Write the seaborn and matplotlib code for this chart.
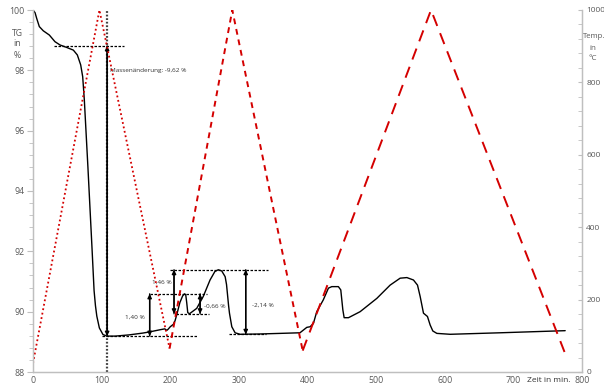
import matplotlib
matplotlib.use("Agg")
import matplotlib.pyplot as plt
import seaborn as sns
import pandas as pd
from matplotlib.ticker import MultipleLocator

sns.set_style("white")
plt.rcParams["font.family"] = ["Open Sans", "DejaVu Sans"]

# Thermogravimetric mass curve (TG, %) over time (min)
tg_time = [0, 3, 5.4, 9.2, 15, 23.8, 32, 39.4, 49, 58.8, 64.6, 69.5, 72.4, 74.8,
           80, 86, 89, 91, 93, 96.7, 102, 108, 120, 140, 160, 170, 185, 192, 195,
           197, 200, 204.5, 207, 209.5, 214, 218, 220.6, 222.5, 224, 225.5, 228,
           238.6, 248, 258, 265, 270, 275, 280, 282, 283.3, 285, 286.3, 289.7,
           294.5, 301.7, 330, 360, 389, 399, 403.8, 408.6, 413.5, 423, 430.5,
           435.4, 445, 448.5, 451.5, 453.4, 459.7, 476.7, 501, 520.4, 535, 544.8,
           554.4, 560.3, 564.2, 569, 574.8, 578.7, 582.6, 588.5, 607.9, 680.8, 775.5]
tg_value = [100, 99.91, 99.72, 99.45, 99.31, 99.17, 98.95, 98.84, 98.76, 98.67,
            98.51, 98.18, 97.79, 97.02, 94.8, 92.1, 90.7, 90.2, 89.85, 89.46,
            89.24, 89.19, 89.19, 89.23, 89.29, 89.33, 89.4, 89.43, 89.38, 89.42,
            89.5, 89.58, 89.7, 89.9, 90.3, 90.52, 90.59, 90.57, 90.3, 89.97, 89.93,
            90.11, 90.5, 91.05, 91.33, 91.39, 91.35, 91.16, 90.9, 90.6, 90.2, 89.95,
            89.5, 89.3, 89.25, 89.26, 89.28, 89.3, 89.48, 89.5, 89.61, 90.0, 90.39,
            90.78, 90.83, 90.83, 90.72, 90.06, 89.8, 89.8, 90.0, 90.44, 90.88,
            91.11, 91.13, 91.05, 90.88, 90.5, 89.95, 89.84, 89.56, 89.36, 89.28,
            89.25, 89.30, 89.37]

# Furnace temperature program (°C), three heating/cooling cycles
cycle1_time = [0, 96.8, 199]
cycle1_temp = [24, 1000, 65]
cycle2_time = [199, 290.4, 393]
cycle2_temp = [65, 1000, 59]
cycle3_time = [393, 580, 775]
cycle3_temp = [59, 1000, 53]

# Mass-change steps: arrow time, start TG, end TG, label
step_time = [108, 170, 205.5, 243.5, 310]
step_from = [89.19, 89.19, 89.93, 90.59, 89.25]
step_to = [98.81, 90.59, 91.39, 89.93, 91.39]
step_label = ["Massenänderung: -9,62 %", "1,40 %", "1,46 %", "-0,66 %", "-2,14 %"]

# Reference levels: level, start time, end time
level_value = [98.81, 89.19, 90.59, 89.93, 91.39, 89.25]
level_start = [31, 100, 170, 208.5, 200, 286]
level_end = [132, 239, 253, 257, 342, 340]

red = "#d40000"
grey = "#595959"

fig = plt.figure(figsize=(6.04, 3.90), dpi=100)
ax = fig.add_axes([33 / 604, 1 - 372 / 390, (582 - 33) / 604, (372 - 10) / 390])
ax2 = ax.twinx()

tg = pd.DataFrame({"t": tg_time, "TG": tg_value})
sns.lineplot(data=tg, x="t", y="TG", ax=ax, color="black", linewidth=1.0,
             sort=False, estimator=None)

c1 = pd.DataFrame({"t": cycle1_time, "T": cycle1_temp})
c2 = pd.DataFrame({"t": cycle2_time, "T": cycle2_temp})
c3 = pd.DataFrame({"t": cycle3_time, "T": cycle3_temp})
sns.lineplot(data=c1, x="t", y="T", ax=ax2, color=red, linewidth=1.3,
             linestyle=(0, (1, 1.5)), sort=False, estimator=None)
sns.lineplot(data=c2, x="t", y="T", ax=ax2, color=red, linewidth=1.4,
             linestyle=(0, (3, 2.5)), sort=False, estimator=None)
sns.lineplot(data=c3, x="t", y="T", ax=ax2, color=red, linewidth=1.4,
             linestyle=(0, (6, 4)), sort=False, estimator=None)

# vertical marker at the end of the first mass loss
ax.plot([step_time[0], step_time[0]], [88, 100], color="#404040",
        linewidth=1.6, linestyle=(0, (0.8, 0.8)))

for lv, a, b in zip(level_value, level_start, level_end):
    ax.plot([a, b], [lv, lv], color="black", linewidth=0.9, linestyle=(0, (2, 1.2)))

for x, y0, y1 in zip(step_time, step_from, step_to):
    ax.annotate("", xy=(x, y1), xytext=(x, y0),
                arrowprops=dict(arrowstyle="-|>", color="black", lw=1.0,
                                mutation_scale=6, shrinkA=0, shrinkB=0))
    ax.annotate("", xy=(x, y0), xytext=(x, y1),
                arrowprops=dict(arrowstyle="-|>", color="black", lw=1.0,
                                mutation_scale=6, shrinkA=0, shrinkB=0))

fs = 4.6
ax.text(112, 97.99, step_label[0], fontsize=fs, color="#333333", va="center", ha="left")
ax.text(163, 89.83, step_label[1], fontsize=fs, color="#333333", va="center", ha="right")
ax.text(202, 90.96, step_label[2], fontsize=fs, color="#333333", va="center", ha="right")
ax.text(249, 90.17, step_label[3], fontsize=fs, color="#333333", va="center", ha="left")
ax.text(319, 90.2, step_label[4], fontsize=fs, color="#333333", va="center", ha="left")

ax.set_xlim(0, 800)
ax.set_ylim(88, 100)
ax2.set_ylim(0, 1000)
ax.set_xticks(range(0, 801, 100))
ax.set_yticks(range(88, 101, 2))
ax2.set_yticks(range(0, 1001, 200))
ax.xaxis.set_minor_locator(MultipleLocator(20))
ax.yaxis.set_minor_locator(MultipleLocator(0.4))
ax2.yaxis.set_minor_locator(MultipleLocator(40))
ax.set_xlabel("")
ax.set_ylabel("")
ax2.set_ylabel("")

spine_col = "#bfbfbf"
for a in (ax, ax2):
    a.spines["top"].set_visible(False)
    for s in ("left", "right", "bottom"):
        a.spines[s].set_color(spine_col)
        a.spines[s].set_linewidth(0.9)

ax.tick_params(axis="y", which="both", direction="out", color=spine_col,
               labelsize=6.3, labelcolor=grey, pad=2)
ax.tick_params(axis="y", which="major", length=4)
ax.tick_params(axis="y", which="minor", length=3)
ax.tick_params(axis="x", which="both", direction="in", color=spine_col,
               labelsize=6.3, labelcolor=grey, pad=3, length=3)
ax2.tick_params(axis="y", which="both", direction="in", color=spine_col,
                labelsize=6.0, labelcolor=grey, pad=3, length=3)

fig.text(17 / 604, 1 - 33 / 390, "TG", fontsize=6.3, color=grey, ha="center", va="center")
fig.text(17 / 604, 1 - 44 / 390, "in", fontsize=6.3, color=grey, ha="center", va="center")
fig.text(17 / 604, 1 - 55 / 390, "%", fontsize=6.3, color=grey, ha="center", va="center")
fig.text(583 / 604, 1 - 37 / 390, "Temp.", fontsize=5.6, color=grey, ha="left", va="center")
fig.text(593 / 604, 1 - 48 / 390, "in", fontsize=5.8, color=grey, ha="center", va="center")
fig.text(593 / 604, 1 - 58 / 390, "°C", fontsize=5.8, color=grey, ha="center", va="center")
fig.text(549 / 604, 1 - 381 / 390, "Zeit in min.", fontsize=6.0, color="#333333",
         ha="center", va="center")

fig.savefig("out.png", dpi=100, facecolor="white")
